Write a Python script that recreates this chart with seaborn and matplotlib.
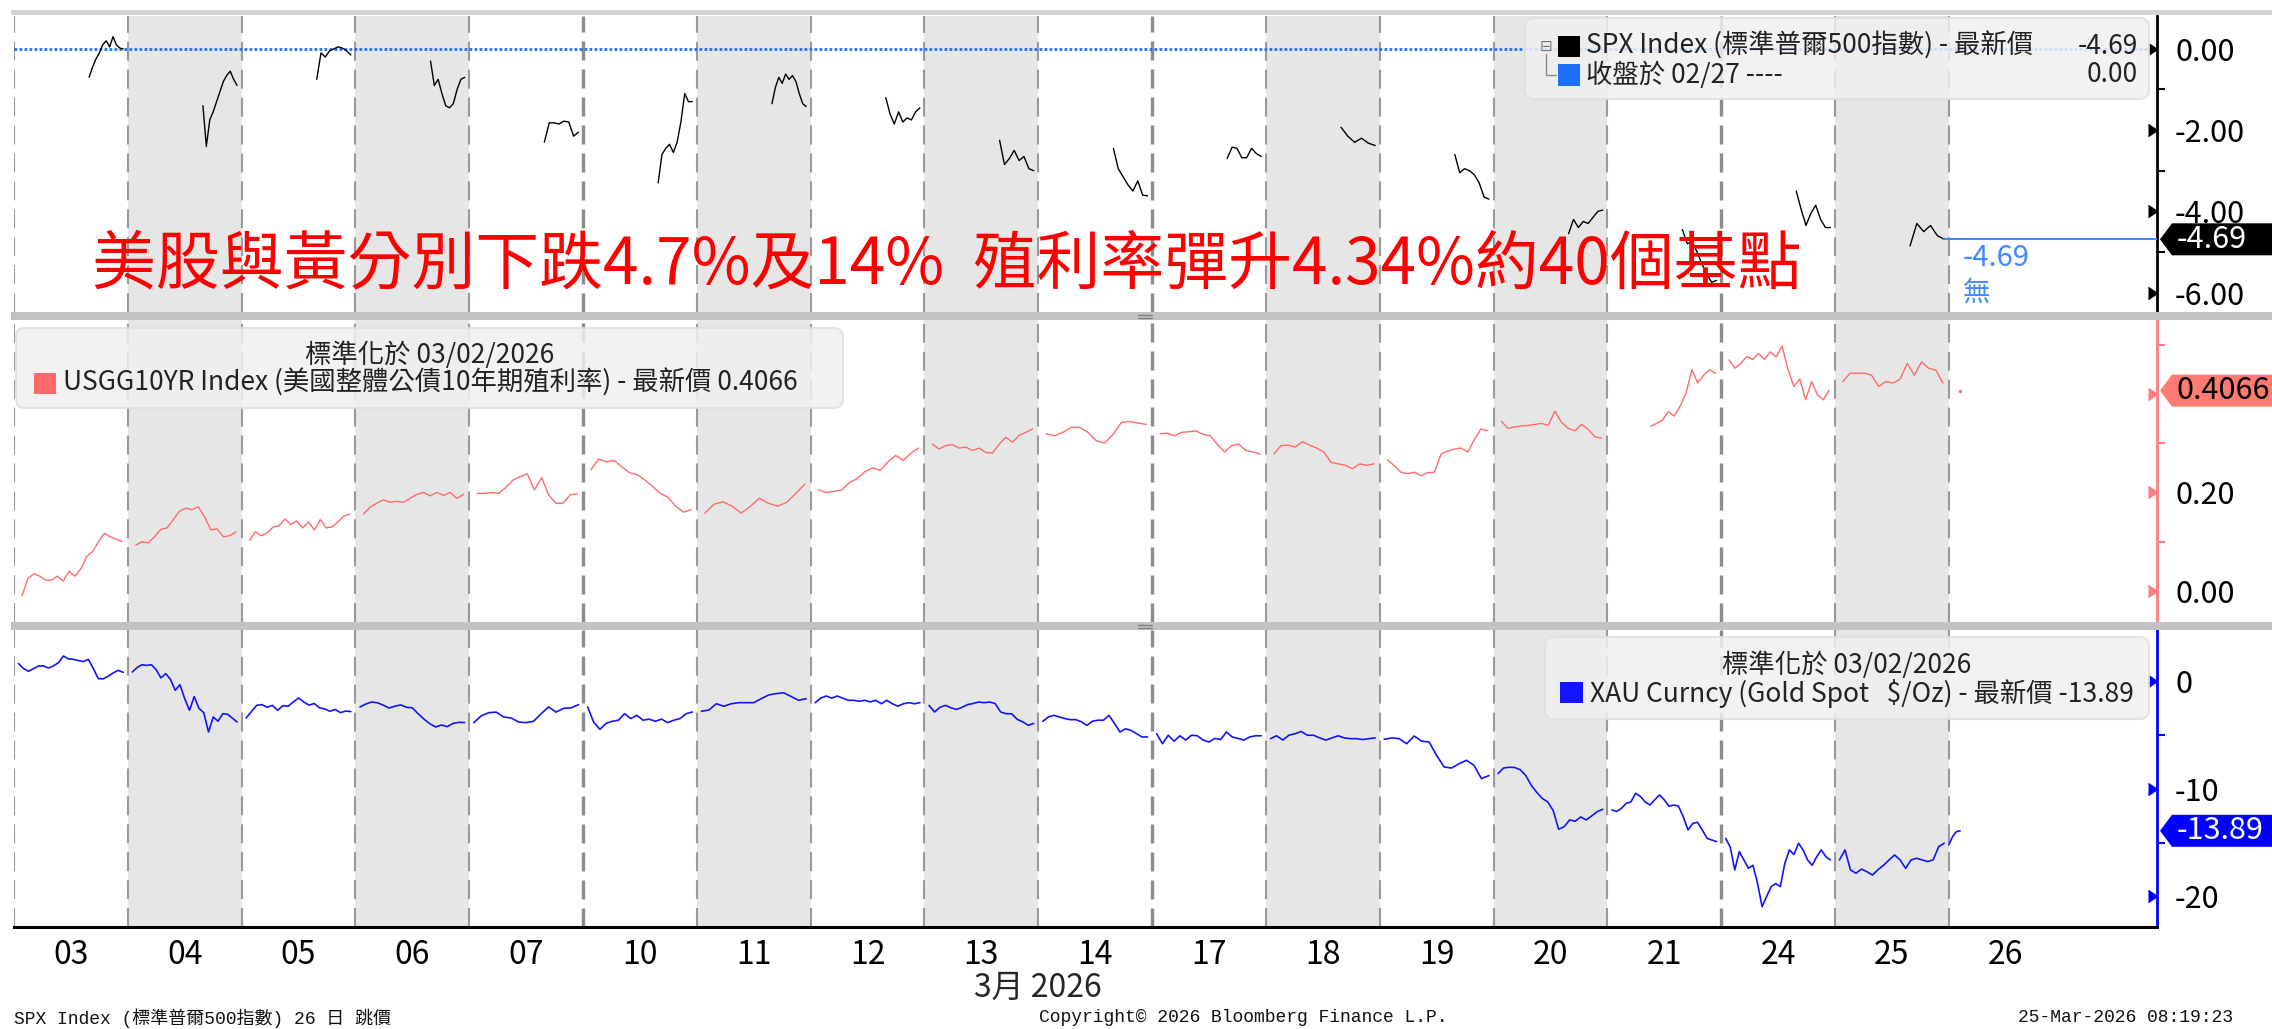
import numpy as np
import pandas as pd
import matplotlib
matplotlib.use('Agg')
import matplotlib.pyplot as plt
import matplotlib.transforms as mtransforms
from matplotlib.patches import Rectangle, Polygon, FancyBboxPatch
from matplotlib.lines import Line2D
import seaborn as sns

nan = np.nan

# x axis: one slot per trading day (HK date), March 2026
days = ['03', '04', '05', '06', '07', '10', '11', '12', '13', '14',
        '17', '18', '19', '20', '21', '24', '25', '26']
shaded_days = ['04', '06', '11', '13', '18', '20', '25']
week_start_days = ['10', '17', '24']

# SPX, % vs close of 02/27, one list per day (US session only, none yet on 26)
spx_days = days[:-1]
spx = [
    [-0.70, -0.45, -0.25, -0.10, 0.10, 0.20, 0.05, 0.30, 0.10, 0.02, 0.00],
    [-1.40, -2.40, -1.75, -1.55, -1.30, -1.05, -0.80, -0.65, -0.55, -0.75, -0.90],
    [-0.75, -0.10, -0.20, -0.05, 0.00, 0.05, 0.02, -0.05, -0.15],
    [-0.30, -0.90, -0.75, -1.10, -1.40, -1.45, -1.35, -1.00, -0.75, -0.70],
    [-2.30, -1.82, -1.82, -1.85, -1.78, -1.80, -2.15, -2.05],
    [-3.30, -2.60, -2.45, -2.35, -2.55, -2.30, -1.80, -1.10, -1.30, -1.30],
    [-1.35, -0.95, -0.70, -0.85, -0.62, -0.75, -0.66, -0.80, -1.10, -1.35, -1.42],
    [-1.20, -1.60, -1.85, -1.55, -1.80, -1.70, -1.75, -1.55, -1.45],
    [-2.25, -2.85, -2.70, -2.50, -2.75, -2.65, -2.95, -3.00],
    [-2.45, -2.95, -3.15, -3.35, -3.50, -3.25, -3.60, -3.62],
    [-2.70, -2.42, -2.45, -2.68, -2.68, -2.45, -2.58, -2.65],
    [-1.93, -2.15, -2.30, -2.20, -2.32, -2.38],
    [-2.60, -3.05, -2.95, -3.00, -3.10, -3.30, -3.65, -3.70],
    [-4.55, -4.20, -4.40, -4.25, -4.30, -4.15, -4.00, -3.97],
    [-4.45, -4.80, -4.75, -5.00, -5.30, -5.55, -5.75, -5.70],
    [-3.50, -3.95, -4.35, -4.05, -3.85, -4.20, -4.40, -4.40],
    [-4.85, -4.30, -4.50, -4.35, -4.60, -4.69],
]

# USGG10YR, change since 03/02/2026
ust10 = [
    [-0.010, 0.025, 0.035, 0.030, 0.022, 0.022, 0.030, 0.020, 0.040, 0.030, 0.045, 0.070, 0.080, 0.100, 0.117, 0.110, 0.105, 0.100],
    [0.093, 0.100, 0.098, 0.110, 0.125, 0.128, 0.145, 0.162, 0.168, 0.165, 0.171, 0.150, 0.124, 0.126, 0.110, 0.112, 0.120],
    [0.103, 0.120, 0.112, 0.118, 0.130, 0.132, 0.146, 0.135, 0.142, 0.128, 0.140, 0.124, 0.145, 0.128, 0.130, 0.140, 0.152, 0.156],
    [0.156, 0.170, 0.178, 0.185, 0.180, 0.182, 0.180, 0.188, 0.196, 0.200, 0.193, 0.200, 0.194, 0.200, 0.188, 0.196],
    [0.198, 0.198, 0.200, 0.198, 0.210, 0.225, 0.232, 0.238, 0.205, 0.230, 0.195, 0.178, 0.178, 0.195, 0.197],
    [0.246, 0.268, 0.262, 0.265, 0.252, 0.240, 0.236, 0.225, 0.212, 0.198, 0.190, 0.172, 0.160, 0.165],
    [0.158, 0.176, 0.181, 0.172, 0.158, 0.172, 0.188, 0.178, 0.172, 0.180, 0.198, 0.217],
    [0.205, 0.200, 0.202, 0.205, 0.220, 0.228, 0.242, 0.250, 0.245, 0.262, 0.275, 0.265, 0.280, 0.290],
    [0.298, 0.288, 0.295, 0.297, 0.290, 0.292, 0.285, 0.290, 0.281, 0.280, 0.298, 0.312, 0.302, 0.316, 0.322, 0.329],
    [0.319, 0.315, 0.322, 0.332, 0.332, 0.322, 0.305, 0.300, 0.318, 0.342, 0.344, 0.341, 0.338],
    [0.319, 0.320, 0.315, 0.322, 0.323, 0.325, 0.318, 0.315, 0.298, 0.282, 0.295, 0.298, 0.285, 0.282, 0.278],
    [0.278, 0.295, 0.296, 0.292, 0.303, 0.296, 0.290, 0.282, 0.261, 0.258, 0.255, 0.248, 0.258, 0.255, 0.258],
    [0.266, 0.254, 0.241, 0.238, 0.241, 0.234, 0.240, 0.241, 0.278, 0.284, 0.288, 0.290, 0.282, 0.308, 0.329, 0.325],
    [0.344, 0.330, 0.333, 0.335, 0.336, 0.338, 0.340, 0.336, 0.365, 0.342, 0.330, 0.325, 0.338, 0.328, 0.313, 0.310],
    [nan, nan, nan, nan, nan, nan, 0.334, 0.340, 0.347, 0.364, 0.355, 0.375, 0.401, 0.449, 0.422, 0.438, 0.449, 0.442],
    [0.469, 0.452, 0.462, 0.476, 0.470, 0.482, 0.470, 0.485, 0.475, 0.497, 0.450, 0.415, 0.430, 0.388, 0.425, 0.398, 0.388, 0.408],
    [0.425, 0.442, 0.442, 0.442, 0.438, 0.415, 0.425, 0.422, 0.430, 0.462, 0.438, 0.465, 0.452, 0.448, 0.422],
    [0.4066],
]

# XAU, % change since 03/02/2026
gold = [
    [1.66, 1.20, 0.95, 1.20, 1.44, 1.45, 1.25, 1.45, 1.75, 2.37, 2.10, 2.06, 1.95, 1.85, 2.06, 1.20, 0.26, 0.25, 0.50, 0.80, 1.04, 0.85],
    [0.88, 1.30, 1.56, 1.50, 1.56, 1.10, 0.33, 0.73, 0.20, -0.82, -0.30, -1.60, -2.68, -1.40, -2.50, -2.90, -4.70, -3.30, -3.70, -3.00, -3.05, -3.40, -3.77],
    [-3.40, -2.80, -2.22, -2.15, -2.40, -2.22, -2.68, -2.25, -2.30, -1.91, -1.53, -1.90, -2.20, -2.05, -2.45, -2.55, -2.77, -2.60, -2.90, -2.75, -2.80],
    [-2.37, -2.10, -1.91, -1.98, -2.20, -2.47, -2.30, -2.18, -2.40, -2.45, -3.00, -3.50, -3.93, -4.23, -4.05, -4.20, -3.90, -3.80, -3.82],
    [-3.83, -3.20, -2.90, -2.85, -3.30, -3.40, -3.77, -3.83, -3.70, -3.00, -2.37, -2.85, -2.50, -2.45, -2.16],
    [-2.37, -3.80, -4.45, -3.90, -3.70, -3.60, -3.00, -3.45, -3.15, -3.60, -3.50, -3.70, -3.50, -3.83, -3.60, -3.45, -3.00, -2.84],
    [-2.77, -2.65, -2.07, -2.30, -2.07, -1.97, -1.97, -1.97, -1.60, -1.25, -1.13, -1.05, -1.40, -1.75, -1.60],
    [-1.97, -1.55, -1.35, -1.55, -1.35, -1.55, -1.75, -1.75, -1.84, -1.75, -1.90, -1.75, -2.07, -1.75, -2.07, -2.30, -2.07, -1.97, -2.07, -1.97],
    [-2.22, -2.84, -2.40, -2.22, -2.45, -2.60, -2.40, -2.15, -2.05, -1.91, -1.97, -1.91, -2.05, -2.84, -3.00, -3.00, -3.52, -3.75, -4.08, -3.90],
    [-3.71, -3.30, -3.15, -3.30, -3.45, -3.55, -3.55, -3.75, -4.08, -3.70, -3.60, -3.60, -3.15, -3.90, -4.70, -4.40, -4.55, -4.85, -5.16, -5.16],
    [-4.86, -5.79, -5.00, -5.55, -5.05, -5.45, -5.00, -5.05, -5.45, -5.63, -5.30, -5.40, -4.70, -5.16, -5.30, -5.45, -5.16, -5.05, -5.05],
    [-5.32, -5.05, -5.45, -5.00, -4.86, -4.65, -5.00, -5.00, -5.25, -5.45, -5.25, -5.05, -5.25, -5.32, -5.32, -5.40, -5.32, -5.25],
    [-5.38, -5.25, -5.32, -5.79, -5.07, -5.55, -5.63, -6.87, -7.95, -8.05, -7.65, -7.33, -7.80, -9.04, -8.75],
    [-8.57, -8.05, -7.98, -8.00, -8.20, -8.73, -9.63, -10.30, -10.87, -11.20, -12.00, -13.75, -13.50, -12.88, -13.00, -12.60, -12.88, -12.50, -12.11, -11.89],
    [-11.95, -12.10, -11.80, -11.35, -11.20, -10.40, -10.70, -11.20, -11.49, -11.00, -10.56, -11.00, -11.60, -11.49, -11.60, -12.58, -13.81, -13.20, -13.10, -13.81, -14.59, -14.75, -14.90],
    [-14.59, -15.40, -17.53, -15.83, -16.60, -17.38, -17.10, -18.77, -20.95, -20.00, -19.09, -18.80, -19.09, -16.91, -15.67, -16.10, -15.05, -15.67, -16.60, -17.10, -16.30, -15.67, -16.30, -16.60],
    [-16.60, -15.67, -17.53, -17.84, -17.45, -17.70, -18.00, -17.50, -17.10, -16.60, -16.14, -16.60, -17.38, -16.60, -16.45, -16.60, -16.75, -16.60, -15.37, -15.05],
    [-15.21, -14.44, -13.97, -13.89],
]

spx_close_0227 = 0.00
spx_last = -4.69
ust_last = 0.4066
gold_last = -13.89

# colours
c_spx = 'black'
c_close = '#1f6fff'
c_last = '#3d8bff'
c_ust = '#ff6b6b'
c_gold = '#1414ff'
c_band = '#e6e6e6'
c_dash = '#9a9a9a'

sns.set_theme(style='white')
plt.rcParams['font.family'] = ['Noto Sans CJK TC', 'DejaVu Sans']
plt.rcParams['axes.unicode_minus'] = False

W, H = 2272, 1029
fig = plt.figure(figsize=(W / 100, H / 100), dpi=100, facecolor='white')


def fx(px):
    return px / W


def fy(py):
    return 1 - py / H


def make_ax(top, bottom):
    return fig.add_axes([fx(14), fy(bottom), fx(2157) - fx(14), (bottom - top) / H])


ax1 = make_ax(16, 312)
ax2 = make_ax(320, 622)
ax3 = make_ax(630, 927)

day_pos = {d: i for i, d in enumerate(days)}
x_right = 18.83


def to_frame(day_list, values, f0, f1, live):
    rows = []
    for d, vals in zip(day_list, values):
        a, b = live if d == days[-1] else (f0, f1)
        xs = day_pos[d] + np.linspace(a, b, len(vals))
        for x, v in zip(xs, vals):
            rows.append((d, x, v))
    return pd.DataFrame(rows, columns=['day', 'x', 'v'])


df_spx = to_frame(spx_days, spx, 0.66, 0.96, (0.0, 0.1))
df_ust = to_frame(days, ust10, 0.07, 0.95, (0.10, 0.10))
df_gold = to_frame(days, gold, 0.04, 0.96, (0.0, 0.10))

# background: alternate day shading + dashed day separators
for ax in (ax1, ax2, ax3):
    ax.set_xlim(0, x_right)
    ax.set_facecolor('white')
    for d in shaded_days:
        ax.axvspan(day_pos[d], day_pos[d] + 1, color=c_band, lw=0, zorder=0)
    for d in days:
        if d in week_start_days:
            ax.axvline(day_pos[d], color='#8c8c8c', lw=2.4, ls=(0, (5.7, 2.7)), zorder=1)
        else:
            ax.axvline(day_pos[d], color=c_dash, lw=1.5, ls=(0, (9.1, 4.3)), zorder=1)

# lines
sns.lineplot(data=df_spx, x='x', y='v', units='day', estimator=None, sort=False,
             color=c_spx, linewidth=1.0, legend=False, ax=ax1, zorder=3)
sns.lineplot(data=df_ust, x='x', y='v', units='day', estimator=None, sort=False,
             color=c_ust, linewidth=1.0, legend=False, ax=ax2, zorder=3)
sns.scatterplot(data=df_ust[df_ust['day'] == days[-1]], x='x', y='v', color=c_ust,
                s=6, linewidth=0, legend=False, ax=ax2, zorder=3)
sns.lineplot(data=df_gold, x='x', y='v', units='day', estimator=None, sort=False,
             color=c_gold, linewidth=1.2, legend=False, ax=ax3, zorder=3)

ax1.axhline(spx_close_0227, color=c_close, lw=2.0, ls=(0, (1, 0.8)), zorder=2)
ax1.plot([df_spx['x'].max(), x_right], [spx_last, spx_last], color=c_last, lw=1.5, zorder=3)

# y axes on the right (the 0.40 label sits under the value tag)
panels = [
    (ax1, (-6.48, 0.81), [0, -2, -4, -6], ['0.00', '-2.00', '-4.00', '-6.00'], [-1, -3, -5], 'black'),
    (ax2, (-0.063, 0.550), [0.0, 0.2, 0.4], ['0.00', '0.20', ''], [0.1, 0.3, 0.5], '#ff7f7f'),
    (ax3, (-22.84, 4.79), [0, -10, -20], ['0', '-10', '-20'], [-5, -15], '#0000ff'),
]
for ax, lim, major, labels, minor, sc in panels:
    ax.set_ylim(*lim)
    ax.set_xlabel('')
    ax.set_ylabel('')
    ax.yaxis.tick_right()
    ax.set_yticks(major)
    ax.set_yticklabels(labels)
    ax.set_yticks(minor, minor=True)
    ax.tick_params(axis='y', which='major', length=0, pad=13, labelsize=22,
                   right=True, left=False, labelright=True, labelleft=False, labelcolor='black')
    ax.tick_params(axis='y', which='minor', length=6, width=1.5, color=sc,
                   direction='out', right=True, left=False)
    for s in ('left', 'top', 'bottom'):
        ax.spines[s].set_visible(False)
    ax.spines['right'].set_color(sc)
    ax.spines['right'].set_linewidth(2)
    trans = mtransforms.blended_transform_factory(ax.transAxes, ax.transData)
    ax.plot([1] * len(major), major, transform=trans, marker=5, ms=9, ls='none',
            color=sc, clip_on=False, zorder=5)

for ax in (ax1, ax2):
    ax.set_xticks([])
ax3.set_xticks([day_pos[d] + 0.5 for d in days])
ax3.set_xticklabels(days)
ax3.tick_params(axis='x', length=0, pad=9, labelsize=23, labelcolor='black')
ax3.spines['bottom'].set_visible(True)
ax3.spines['bottom'].set_color('black')
ax3.spines['bottom'].set_linewidth(2.2)

# frame pieces: top border and panel separators
fig.add_artist(Rectangle((fx(11), fy(15)), 1 - fx(11), 5 / H, fc='#d4d4d4', ec='none', zorder=3))
for y0 in (312, 622):
    fig.add_artist(Rectangle((fx(11), fy(y0 + 8)), 1 - fx(11), 8 / H, fc='#c2c2c2', ec='none', zorder=3))
    for dy in (2.5, 5.5):
        fig.add_artist(Line2D([fx(1138), fx(1152)], [fy(y0 + dy)] * 2, color='#808080', lw=1, zorder=4))


def legend_box(x0, y0, x1, y1):
    fig.add_artist(FancyBboxPatch((fx(x0), fy(y1)), fx(x1) - fx(x0), (y1 - y0) / H,
                                  boxstyle='round,pad=0,rounding_size=0.004',
                                  mutation_aspect=W / H, fc='#f0f0f0', ec='#e0e0e0',
                                  lw=1.5, alpha=0.85, zorder=4))


def swatch(x0, y0, x1, y1, color):
    fig.add_artist(Rectangle((fx(x0), fy(y1)), fx(x1) - fx(x0), (y1 - y0) / H,
                             fc=color, ec='none', zorder=5))


lg = dict(fontsize=19, color='#222222', va='center', zorder=6)

# top legend
legend_box(1525, 18, 2149, 99)
fig.text(fx(1546), fy(46), '⊟', fontsize=11, color='#777777', ha='center', va='center',
         family='DejaVu Sans', zorder=6)
fig.add_artist(Line2D([fx(1546), fx(1546), fx(1556)], [fy(54), fy(75), fy(75)],
                      color='#888888', lw=1, zorder=5))
swatch(1558, 36, 1580, 57, 'black')
swatch(1558, 64, 1580, 86, c_close)
fig.text(fx(1586), fy(46), 'SPX Index (標準普爾500指數) - 最新價', ha='left', **lg)
fig.text(fx(2138), fy(46), '%.2f' % spx_last, ha='right', **lg)
fig.text(fx(1586), fy(75), '收盤於 02/27 ----', ha='left', **lg)
fig.text(fx(2138), fy(75), '%.2f' % spx_close_0227, ha='right', **lg)

# middle legend
legend_box(16, 328, 843, 408)
fig.text(fx(430), fy(355), '標準化於 03/02/2026', ha='center', **lg)
swatch(34, 373, 56, 394, c_ust)
fig.text(fx(63), fy(383), 'USGG10YR Index (美國整體公債10年期殖利率) - 最新價 %.4f' % ust_last,
         ha='left', **lg)

# bottom legend
legend_box(1545, 637, 2149, 719)
fig.text(fx(1847), fy(665), '標準化於 03/02/2026', ha='center', **lg)
swatch(1560, 682, 1583, 703, c_gold)
fig.text(fx(1590), fy(693), 'XAU Curncy (Gold Spot   $/Oz) - 最新價 %.2f' % gold_last,
         ha='left', **lg)


# last value tags on the right axis
def value_tag(ax, v, text, fc, tc):
    ypx = H - ax.transData.transform((0, v))[1]
    h = 16
    pts = [(2160, ypx), (2172, ypx - h), (2300, ypx - h), (2300, ypx + h), (2172, ypx + h)]
    fig.add_artist(Polygon([(fx(x), fy(y)) for x, y in pts], closed=True, fc=fc, ec='none', zorder=6))
    fig.text(fx(2177), fy(ypx), text, color=tc, fontsize=22, ha='left', va='center', zorder=7)
    return ypx


value_tag(ax1, spx_last, '%.2f' % spx_last, 'black', 'white')
value_tag(ax2, ust_last, '%.4f' % ust_last, '#ff7a70', 'black')
value_tag(ax3, gold_last, '%.2f' % gold_last, '#0000ff', 'white')

fig.text(fx(1963), fy(258), '%.2f' % spx_last, color=c_last, fontsize=21, ha='left', va='center')
fig.text(fx(1963), fy(293), '無', color=c_last, fontsize=20, ha='left', va='center')

# headline
fig.text(fx(947), fy(265), '美股與黃分別下跌4.7%及14%  殖利率彈升4.34%約40個基點',
         color='#ff0000', fontsize=46, fontweight='light', ha='center', va='center', zorder=6)

# month label and footer
fig.text(fx(14 + 9 * 113.8), fy(988), '3月 2026', fontsize=23, ha='center', va='center')
ft = dict(fontsize=13, color='#111111', va='center', family=['Liberation Mono', 'Noto Sans CJK TC'])
fig.text(fx(14), fy(1018), 'SPX Index (標準普爾500指數) 26 日 跳價', ha='left', **ft)
fig.text(fx(1243), fy(1018), 'Copyright© 2026 Bloomberg Finance L.P.', ha='center', **ft)
fig.text(fx(2018), fy(1018), '25-Mar-2026 08:19:23', ha='left', **ft)

fig.savefig('out.png', dpi=100, facecolor='white')
